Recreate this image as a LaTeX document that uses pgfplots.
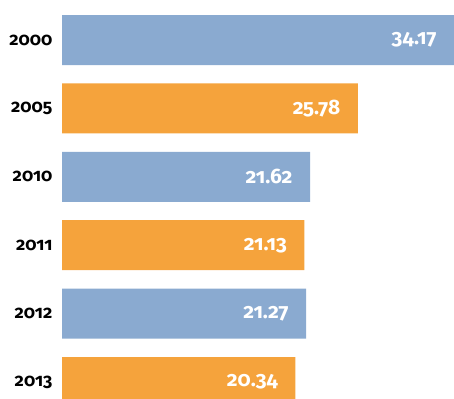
\documentclass[border=0pt]{standalone}
\usepackage{fontspec}
\setmainfont{Fira Sans}[Numbers=OldStyle]
\usepackage{pgfplots}
\pgfplotsset{compat=1.18}

\definecolor{barblue}{HTML}{8AAAD0}
\definecolor{barorange}{HTML}{F5A33C}

\begin{document}
\begin{tikzpicture}[x=1bp,y=1bp]
\useasboundingbox (0,0) rectangle (454,398);
\begin{axis}[
  at={(62bp,0bp)}, anchor=south west,
  scale only axis,
  width=392bp, height=398bp,
  xbar, bar width=50bp, bar shift=0pt,
  xmin=0, xmax=34.17,
  ymin=-0.585, ymax=5.234,
  y dir=reverse,
  hide x axis,
  axis y line=left,
  y axis line style={draw=none},
  ytick={0,1,2,3,4,5},
  yticklabels={2000,2005,2010,2011,2012,2013},
  ytick style={draw=none},
  yticklabel style={font=\fontsize{18}{20}\selectfont\bfseries, text=black, xshift=-4bp},
  nodes near coords,
  every node near coord/.append style={anchor=east, xshift=-14bp, text=white,
    font=\fontsize{21}{24}\selectfont\bfseries},
  point meta=explicit symbolic,
  clip=true,
]
\addplot[fill=barblue, draw=none] coordinates {
  (34.17,0) [34.17]
  (21.62,2) [21.62]
  (21.27,4) [21.27]
};
\addplot[fill=barorange, draw=none] coordinates {
  (25.78,1) [25.78]
  (21.13,3) [21.13]
  (20.34,5) [20.34]
};
\end{axis}
\end{tikzpicture}
\end{document}
